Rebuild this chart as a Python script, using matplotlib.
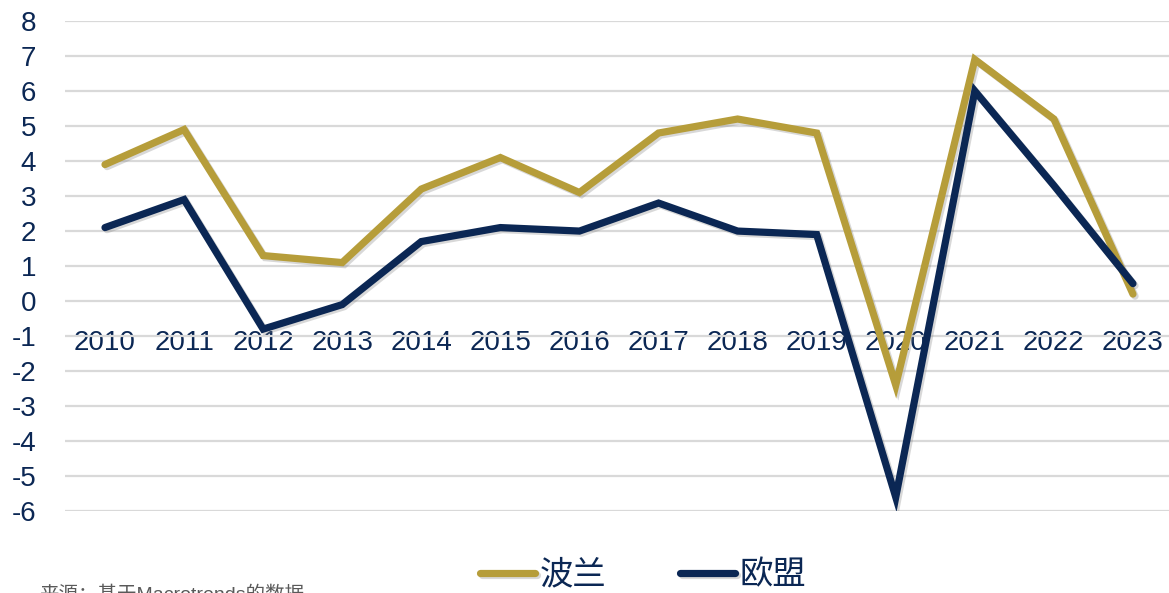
import matplotlib.pyplot as plt
import matplotlib.patheffects as pe

plt.rcParams['font.family'] = ['Liberation Sans', 'Noto Sans CJK SC', 'DejaVu Sans']
plt.rcParams['axes.unicode_minus'] = False

years = ['2010', '2011', '2012', '2013', '2014', '2015', '2016',
         '2017', '2018', '2019', '2020', '2021', '2022', '2023']
poland = [3.9, 4.9, 1.3, 1.1, 3.2, 4.1, 3.1, 4.8, 5.2, 4.8, -2.4, 6.9, 5.2, 0.2]
eu = [2.1, 2.9, -0.8, -0.1, 1.7, 2.1, 2.0, 2.8, 2.0, 1.9, -5.6, 6.0, 3.3, 0.5]
names = ['波兰', '欧盟']
colors = ['#b69d3a', '#0b2754']
text_col = '#0b2754'

fig = plt.figure(figsize=(11.69, 5.93), dpi=100)
ax = fig.add_axes([0.056, 0.138, 0.947, 0.8266])

x = range(len(years))
shadow = [pe.SimpleLineShadow(offset=(1.5, -1.5), alpha=0.3, shadow_color='gray'), pe.Normal()]
for vals, name, c in zip([poland, eu], names, colors):
    ax.plot(x, vals, color=c, lw=5.2, label=name, solid_joinstyle='miter',
            solid_capstyle='round', path_effects=shadow)

ax.set_xlim(-0.5, len(years) - 0.5)
ax.set_ylim(-6, 8)
ax.set_yticks(range(-6, 9))
ax.set_xticks(list(x))
ax.set_xticklabels(years)
ax.grid(axis='y', color='#d9d9d9', lw=1.6)
ax.set_axisbelow(True)
for s in ['top', 'right', 'left']:
    ax.spines[s].set_visible(False)
ax.spines['bottom'].set_position(('data', 0))
ax.spines['bottom'].set_color('none')
ax.tick_params(axis='x', length=0, pad=21, labelsize=20, labelcolor=text_col)
ax.tick_params(axis='y', length=0, pad=21, labelsize=20, labelcolor=text_col)

fig.legend(loc='center', bbox_to_anchor=(0.55, 1 - 576 / 593), ncol=2, frameon=False,
           fontsize=24, labelcolor=text_col, handlelength=1.65, handletextpad=0.15,
           columnspacing=2.2)

fig.text(0.034, 1 - 586 / 593, '来源：基于Macrotrends的数据', fontsize=14,
         color='#595959', va='top')

fig.savefig('out.png', dpi=100)
